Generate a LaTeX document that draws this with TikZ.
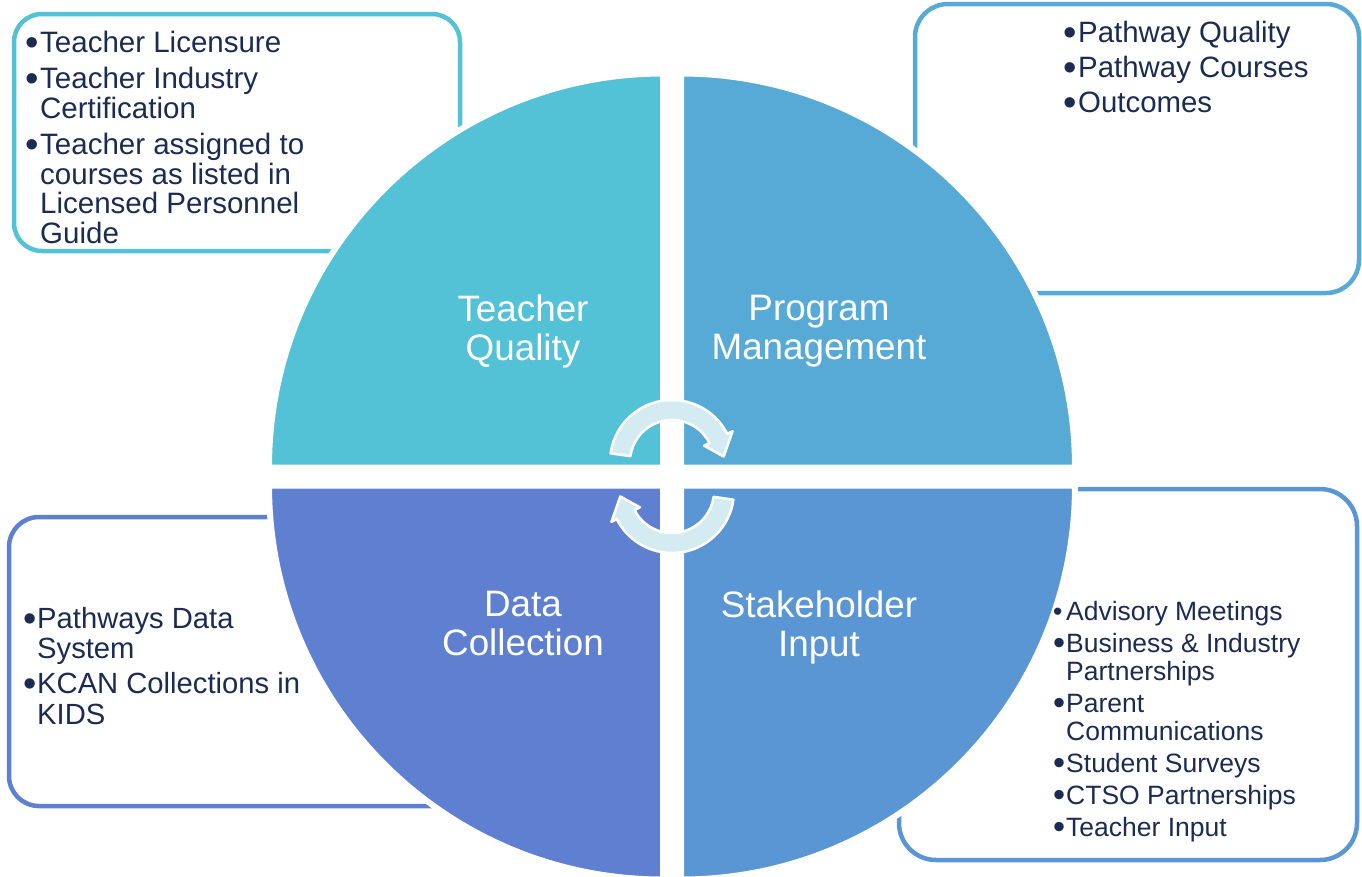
\documentclass[tikz,border=0pt]{standalone}
\usepackage{fontspec}
\setmainfont{Liberation Sans}
\definecolor{tqcol}{RGB}{83,193,214}
\definecolor{pmcol}{RGB}{86,170,213}
\definecolor{sicol}{RGB}{90,150,211}
\definecolor{dccol}{RGB}{95,128,208}
\definecolor{navy}{RGB}{27,43,82}
\definecolor{arrowfill}{RGB}{212,235,241}
\newcommand{\bul}{\raisebox{-0.11em}{\scalebox{1.3}{•}}}

\tikzset{
  quad/.style={draw=white, line width=6pt},
  listbox/.style={line width=4.5pt},
  quadlabel/.style={text=white, align=center, inner sep=0pt, font=\fontsize{36.8}{39}\selectfont},
  bullets/.style={anchor=base west, inner sep=0pt, text=navy},
  cyclearrow/.style={fill=arrowfill, draw=white, line width=2.5pt, line join=round}
}

\begin{document}
\begin{tikzpicture}[x=1pt,y=-1pt]
\fill[white] (0,0) rectangle (1362,876);
\useasboundingbox (0,0) rectangle (1362,876);
\coordinate (O) at (672,476.5);

\draw[listbox, draw=tqcol, rounded corners=28pt] (14,14) rectangle (460,251);
\draw[listbox, draw=pmcol, rounded corners=33pt] (915,4) rectangle (1359,293);
\draw[listbox, draw=dccol, rounded corners=30pt] (9,517) rectangle (560,806);
\draw[listbox, draw=sicol, rounded corners=37pt] (899,489) rectangle (1357,860);

\foreach \col/\dx/\dy/\a in {tqcol/-9/-9/180, pmcol/9/-9/270, sicol/9/9/0, dccol/-9/9/90}
  \filldraw[quad, fill=\col] ([shift={(\dx,\dy)}]O) -- ++(\a:394) arc[start angle=\a, delta angle=90, radius=394] -- cycle;

\node[quadlabel] (tq) at (523,331) {Teacher\\Quality};
\node[quadlabel] (pm) at (819,331) {Program\\Management};
\node[quadlabel] (dc) at (523,624) {Data\\Collection};
\node[quadlabel] (si) at (819,627) {Stakeholder\\Input};

\foreach \r in {0,180}{
  \begin{scope}[rotate around={\r:(O)}, shift={(672,462)}]
    \filldraw[cyclearrow] (188:42) -- (188:62) arc[start angle=188, end angle=333, radius=62]
      -- (333:68) -- (354:52) -- (333:36) -- (333:42)
      arc[start angle=333, end angle=188, radius=42] -- cycle;
  \end{scope}
}

\node[bullets, font=\fontsize{29.5}{28}\selectfont] (tqlist) at (25,52) {\begin{tabular}[t]{@{}p{15pt}@{}l@{}}
\bul&Teacher Licensure\\[6.5pt]
\bul&Teacher Industry\\
&Certification\\[6.5pt]
\bul&Teacher assigned to\\
&courses as listed in\\
&Licensed Personnel\\
&Guide
\end{tabular}};

\node[bullets, font=\fontsize{29.4}{29.5}\selectfont] (pmlist) at (1063,42) {\begin{tabular}[t]{@{}p{15pt}@{}l@{}}
\bul&Pathway Quality\\[5.5pt]
\bul&Pathway Courses\\[5.5pt]
\bul&Outcomes
\end{tabular}};

\node[bullets, font=\fontsize{29.2}{30.5}\selectfont] (dclist) at (23,628) {\begin{tabular}[t]{@{}p{14pt}@{}l@{}}
\bul&Pathways Data\\
&System\\[4.5pt]
\bul&KCAN Collections in\\
&KIDS
\end{tabular}};

\node[bullets, font=\fontsize{26.5}{28}\selectfont] (silist) at (1053,620) {\begin{tabular}[t]{@{}p{13pt}@{}l@{}}
•&Advisory Meetings\\[4pt]
\bul&Business \& Industry\\
&Partnerships\\[4pt]
\bul&Parent\\
&Communications\\[4pt]
\bul&Student Surveys\\[4pt]
\bul&CTSO Partnerships\\[4pt]
\bul&Teacher Input
\end{tabular}};
\end{tikzpicture}
\end{document}
